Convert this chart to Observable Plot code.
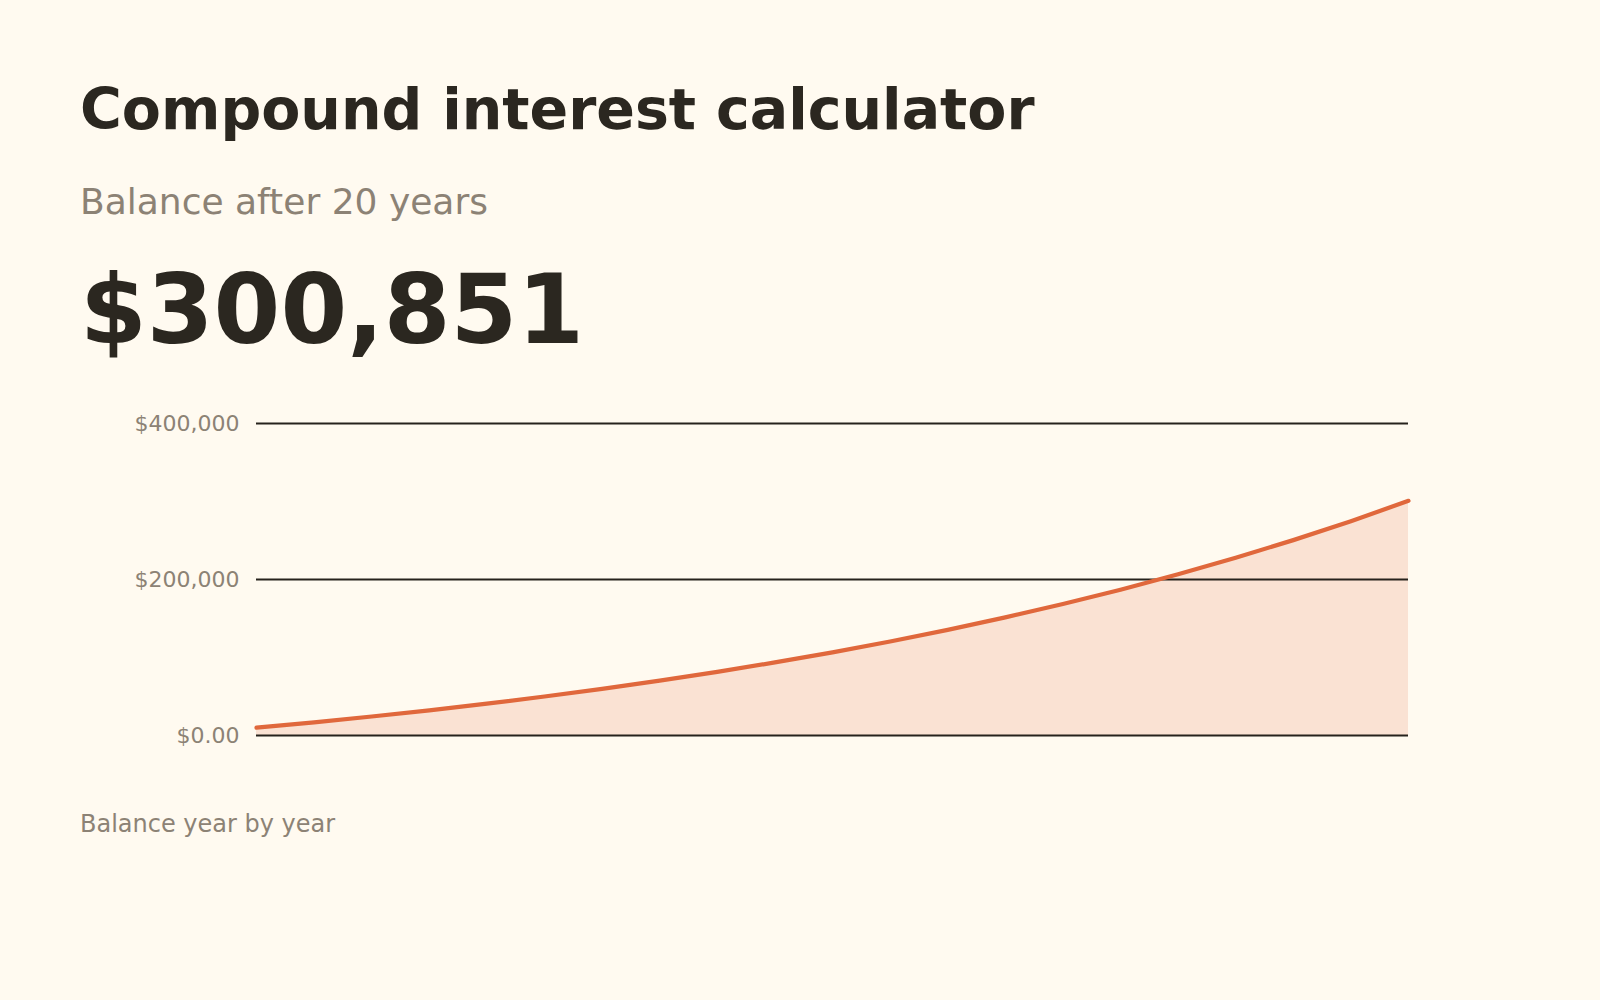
<!DOCTYPE html>
<html>
<head>
<meta charset="utf-8">
<script src="https://cdn.jsdelivr.net/npm/d3@7"></script>
<script src="https://cdn.jsdelivr.net/npm/@observablehq/plot@0.6"></script>
<style>
  html, body { margin: 0; padding: 0; background: #fffaf0; }
  body { width: 1600px; height: 1000px; position: relative; overflow: hidden; font-family: "DejaVu Sans", sans-serif; }
  .t { position: absolute; left: 80px; line-height: 1; white-space: nowrap; margin: 0; }
  #title { top: 80.5px; font-size: 57px; font-weight: bold; color: #2b2720; }
  #subtitle { top: 183.5px; font-size: 36px; color: #8c8275; }
  #big { top: 262px; font-size: 96px; font-weight: bold; color: #2b2720; }
  #caption { top: 812px; font-size: 24px; color: #8c8275; }
  #chart { position: absolute; left: 80px; top: 403px; }
</style>
</head>
<body>
<div class="t" id="title">Compound interest calculator</div>
<div class="t" id="subtitle">Balance after 20 years</div>
<div class="t" id="big">$300,851</div>
<div id="chart"></div>
<div class="t" id="caption">Balance year by year</div>
<script>
const years = [0,1,2,3,4,5,6,7,8,9,10,11,12,13,14,15,16,17,18,19,20];
const balances = [10000,16919,24339,32294,40825,49973,59782,70299,81578,93671,106639,120545,135455,151444,168588,186971,206683,227821,250485,274790,300851];
const yTicks = [0, 200000, 400000];
const yTickLabels = ["$0.00", "$200,000", "$400,000"];

const data = years.map((yr, i) => ({year: yr, balance: balances[i]}));
const accent = "#e0683c";
const fmt = (d) => yTickLabels[yTicks.indexOf(d)];

const chart = Plot.plot({
  width: 1440,
  height: 352,
  marginLeft: 176,
  marginRight: 112,
  marginTop: 20,
  marginBottom: 20,
  style: {background: "transparent", fontFamily: "DejaVu Sans, sans-serif", fontSize: "22px", overflow: "visible"},
  x: {domain: [0, 20], axis: null},
  y: {domain: [0, 400000], axis: null},
  marks: [
    Plot.axisY({ticks: yTicks, tickFormat: fmt, tickSize: 0, tickPadding: 17, label: null, color: "#8c8275", fontSize: 22}),
    Plot.areaY(data, {x: "year", y: "balance", fill: accent, fillOpacity: 0.16}),
    Plot.ruleY(yTicks, {stroke: "#26221c", strokeWidth: 2}),
    Plot.lineY(data, {x: "year", y: "balance", stroke: accent, strokeWidth: 4.2, strokeLinecap: "round", strokeLinejoin: "round"})
  ]
});
document.getElementById("chart").appendChild(chart);
</script>
</body>
</html>
